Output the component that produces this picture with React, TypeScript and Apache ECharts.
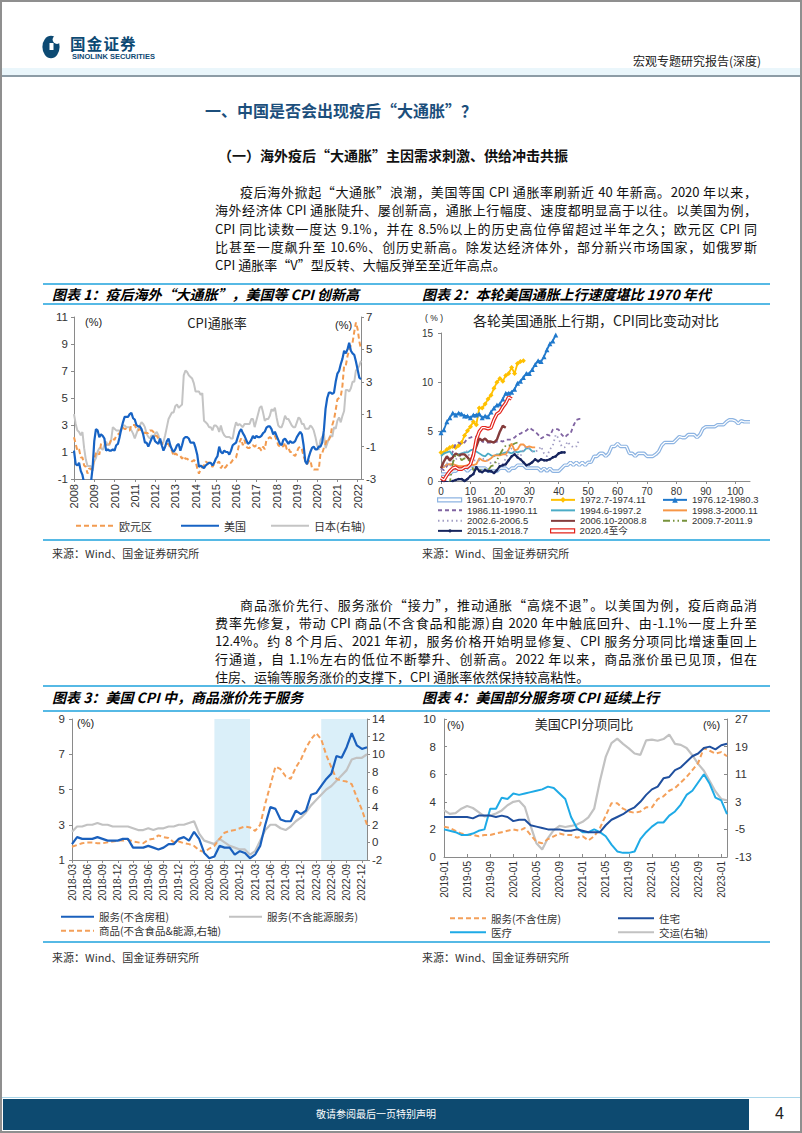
import React, { useEffect, useRef } from "react";
import * as echarts from "echarts";

const SANS = '"Liberation Sans", Arial, "Noto Sans CJK SC", sans-serif';
const CJK = '"Noto Sans CJK SC", "Liberation Sans", sans-serif';

/* ---------------- 图表1：CPI通胀率（月度，自 2008-11） ---------------- */
const c1Start = "2008-11";
const c1Euro = [
  2.1, 1.6,
  1.1, 1.2, 0.6, 0.6, 0.0, -0.1, -0.6, -0.2, -0.3, -0.1, 0.5, 0.9,
  1.0, 0.8, 1.6, 1.6, 1.7, 1.5, 1.7, 1.6, 1.9, 2.0, 1.9, 2.2,
  2.3, 2.4, 2.7, 2.8, 2.7, 2.7, 2.6, 2.6, 3.0, 3.0, 3.0, 2.7,
  2.6, 2.7, 2.6, 2.6, 2.4, 2.4, 2.4, 2.6, 2.6, 2.5, 2.2, 2.2,
  2.0, 1.8, 1.7, 1.2, 1.4, 1.6, 1.6, 1.3, 1.1, 0.7, 0.9, 0.8,
  0.8, 0.7, 0.5, 0.7, 0.5, 0.5, 0.4, 0.4, 0.3, 0.4, 0.3, -0.2,
  -0.6, -0.3, -0.1, 0.0, 0.3, 0.2, 0.2, 0.1, -0.1, 0.1, 0.1, 0.2,
  0.3, -0.2, 0.0, -0.2, -0.1, 0.1, 0.2, 0.2, 0.4, 0.5, 0.6, 1.1,
  1.7, 2.0, 1.5, 1.9, 1.4, 1.3, 1.3, 1.5, 1.5, 1.4, 1.5, 1.3,
  1.3, 1.1, 1.4, 1.2, 1.9, 2.0, 2.1, 2.0, 2.1, 2.2, 1.9, 1.5,
  1.4, 1.5, 1.4, 1.7, 1.2, 1.3, 1.0, 1.0, 0.8, 0.7, 1.0, 1.3,
  1.4, 1.2, 0.7, 0.3, 0.1, 0.3, 0.4, -0.2, -0.3, -0.3, -0.3, -0.3,
  0.9, 0.9, 1.3, 1.6, 2.0, 1.9, 2.2, 3.0, 3.4, 4.1, 4.9, 5.0,
  5.1, 5.9, 7.4, 7.4, 8.1, 8.6, 8.9, 9.1, 9.9, 10.6, 10.1, 9.2,
  8.6,
];
const c1US = [
  1.1, 0.1,
  0.0, 0.2, -0.4, -0.7, -1.3, -1.4, -2.1, -1.5, -1.3, -0.2, 1.8, 2.7,
  2.6, 2.1, 2.3, 2.2, 2.0, 1.1, 1.2, 1.1, 1.1, 1.2, 1.1, 1.5,
  1.6, 2.1, 2.7, 3.2, 3.6, 3.6, 3.6, 3.8, 3.9, 3.5, 3.4, 3.0,
  2.9, 2.9, 2.7, 2.3, 1.7, 1.7, 1.4, 1.7, 2.0, 2.2, 1.8, 1.7,
  1.6, 2.0, 1.5, 1.1, 1.4, 1.8, 2.0, 1.5, 1.2, 1.0, 1.2, 1.5,
  1.6, 1.1, 1.5, 2.0, 2.1, 2.1, 2.0, 1.7, 1.7, 1.7, 1.3, 0.8,
  -0.1, 0.0, -0.1, -0.2, 0.0, 0.1, 0.2, 0.2, 0.0, 0.2, 0.5, 0.7,
  1.4, 1.0, 0.9, 1.1, 1.0, 1.0, 0.8, 1.1, 1.5, 1.6, 1.7, 2.1,
  2.5, 2.7, 2.4, 2.2, 1.9, 1.6, 1.7, 1.9, 2.2, 2.0, 2.2, 2.1,
  2.1, 2.2, 2.4, 2.5, 2.8, 2.9, 2.9, 2.7, 2.3, 2.5, 2.2, 1.9,
  1.6, 1.5, 1.9, 2.0, 1.8, 1.6, 1.8, 1.7, 1.7, 1.8, 2.1, 2.3,
  2.5, 2.3, 1.5, 0.3, 0.1, 0.6, 1.0, 1.3, 1.4, 1.2, 1.2, 1.4,
  1.4, 1.7, 2.6, 4.2, 5.0, 5.4, 5.4, 5.3, 5.4, 6.2, 6.8, 7.0,
  7.5, 7.9, 8.5, 8.3, 8.6, 9.1, 8.5, 8.3, 8.2, 7.7, 7.1, 6.5,
  6.4,
];
const c1Japan = [
  1.0, 0.4,
  0.0, -0.1, -0.3, -0.1, -1.1, -1.8, -2.2, -2.2, -2.2, -2.5, -1.9, -1.7,
  -1.3, -1.1, -1.1, -1.2, -0.9, -0.7, -0.9, -0.9, -0.6, 0.2, 0.1, 0.0,
  0.0, 0.0, 0.0, 0.3, 0.3, 0.2, 0.2, 0.2, 0.0, -0.2, -0.5, -0.2,
  0.1, 0.3, 0.5, 0.4, 0.2, -0.2, -0.4, -0.5, -0.3, -0.4, -0.2, -0.1,
  -0.3, -0.7, -0.9, -0.7, -0.3, 0.2, 0.7, 0.9, 1.1, 1.1, 1.5, 1.6,
  1.4, 1.5, 1.6, 3.4, 3.7, 3.6, 3.4, 3.3, 3.2, 2.9, 2.4, 2.4,
  2.4, 2.2, 2.3, 0.6, 0.5, 0.4, 0.2, 0.2, 0.0, 0.3, 0.3, 0.2,
  -0.1, 0.3, -0.1, -0.3, -0.4, -0.4, -0.4, -0.5, -0.5, 0.1, 0.5, 0.3,
  0.4, 0.3, 0.2, 0.4, 0.4, 0.4, 0.4, 0.7, 0.7, 0.2, 0.6, 1.0,
  1.4, 1.5, 1.1, 0.6, 0.7, 0.7, 0.9, 1.3, 1.2, 1.4, 0.8, 0.3,
  0.2, 0.2, 0.5, 0.9, 0.7, 0.7, 0.5, 0.3, 0.2, 0.2, 0.5, 0.8,
  0.7, 0.4, 0.4, 0.1, 0.1, 0.1, 0.3, 0.2, 0.0, -0.4, -0.9, -1.2,
  -0.6, -0.4, -0.2, -1.1, -0.8, -0.5, -0.3, -0.4, 0.2, 0.1, 0.6, 0.8,
  0.5, 0.9, 1.2, 2.5, 2.5, 2.4, 2.6, 3.0, 3.0, 3.7, 3.8, 4.0,
  4.3,
];

/* ---------------- 图表2：各轮美国通胀上行期 CPI 同比（按月序） ---------------- */
const c2_1961 = [
  0.7, 0.7, 0.7,
  0.7, 1.0, 1.0, 1.3, 1.3, 1.3, 1.0, 1.3, 1.3, 1.3, 1.3, 1.3,
  1.3, 1.0, 1.0, 1.0, 1.0, 1.3, 1.3, 1.3, 1.0, 1.3, 1.3, 1.6,
  1.6, 1.6, 1.3, 1.3, 1.3, 1.3, 1.3, 1.0, 1.3, 1.0, 1.3, 1.0,
  1.0, 1.0, 1.3, 1.6, 1.6, 1.9, 1.6, 1.9, 1.6, 1.9, 1.6, 1.9,
  1.9, 2.5, 2.5, 2.8, 2.8, 2.5, 2.8, 3.5, 3.5, 3.8, 3.5, 3.5,
  3.5, 2.8, 2.8, 2.5, 2.8, 2.8, 2.8, 2.5, 2.5, 2.5, 2.7, 3.0,
  3.6, 3.9, 3.9, 3.9, 3.9, 4.2, 4.5, 4.4, 4.4, 4.7, 4.7, 4.7,
  4.4, 4.7, 5.3, 5.5, 5.5, 5.5, 5.5, 5.7, 5.7, 5.7, 6.0, 6.2,
  6.2, 6.1, 5.8, 6.1, 6.0, 6.0, 6.0,
];
const c2_1972 = [
  2.9, 2.9, 3.2, 3.4, 3.5, 3.4,
  3.6, 3.9, 4.6, 5.1, 5.5, 6.0, 5.7, 7.4, 7.4, 7.8, 8.3, 8.7,
  9.4, 10.0, 10.4, 10.1, 10.7, 10.9, 11.5, 10.9, 11.9, 12.1, 12.2,
];
const c2_1976 = [
  4.9,
  5.2, 6.0, 6.4, 6.9, 6.7, 6.9, 6.8, 6.6, 6.6, 6.4, 6.7, 6.7,
  6.8, 6.4, 6.6, 6.5, 7.0, 7.4, 7.7, 7.8, 8.3, 8.9, 8.9, 9.0,
  9.3, 9.9, 10.1, 10.5, 10.9, 10.9, 11.3, 11.8, 12.2, 12.1, 12.6, 13.3,
  13.9, 14.2, 14.8,
];
const c2_1986 = [
  1.3, 1.1,
  1.5, 2.1, 3.0, 3.8, 3.9, 3.7, 3.9, 4.3, 4.4, 4.5, 4.5, 4.4,
  4.0, 3.9, 3.9, 3.9, 3.9, 4.0, 4.1, 4.0, 4.2, 4.2, 4.2, 4.4,
  4.7, 4.8, 5.0, 5.1, 5.4, 5.2, 5.0, 4.7, 4.3, 4.5, 4.7, 4.6,
  5.2, 5.3, 5.2, 4.7, 4.4, 4.7, 4.8, 5.6, 6.2, 6.3, 6.3,
];
const c2_1994 = [
  2.5, 2.8, 2.9, 3.0, 2.6, 2.7, 2.7,
  2.8, 2.9, 2.9, 3.1, 3.2, 3.0, 2.8, 2.6, 2.5, 2.8, 2.6, 2.5,
  2.7, 2.7, 2.8, 2.9, 2.9, 2.8, 3.0, 2.9, 3.0, 3.0, 3.3, 3.3,
  3.0, 3.0,
];
const c2_1998 = [
  1.4, 1.4, 1.7, 1.7, 1.7, 1.6, 1.5, 1.5, 1.5, 1.6,
  1.7, 1.6, 1.7, 2.3, 2.1, 2.0, 2.1, 2.3, 2.6, 2.6, 2.6, 2.7,
  2.7, 3.2, 3.8, 3.1, 3.2, 3.7, 3.7, 3.4, 3.5, 3.4, 3.4,
];
const c2_2002 = [
  1.1, 1.5, 1.8, 1.5, 2.0, 2.2, 2.4,
  2.6, 3.0, 3.0, 2.2, 2.1, 2.1, 2.1, 2.2, 2.3, 2.0, 1.8, 1.9,
  1.9, 1.7, 1.7, 2.3, 3.1, 3.3, 3.0, 2.7, 2.5, 3.2, 3.5, 3.3,
  3.0, 3.0, 3.1, 3.5, 2.8, 2.5, 3.2, 3.6, 4.7, 4.3, 3.5, 3.4,
  4.0, 3.6, 3.4, 3.5, 4.2,
];
const c2_2006 = [
  1.3, 2.0, 2.5,
  2.1, 2.4, 2.8, 2.6, 2.7, 2.7, 2.4, 2.0, 2.8, 3.5, 4.3, 4.1,
  4.3, 4.0, 4.0, 3.9, 4.2, 5.0, 5.6, 5.4,
];
const c2_2009 = [
  -2.1, -1.5, -1.3, -0.2, 1.8, 2.7,
  2.6, 2.1, 2.3, 2.2, 2.0, 1.1, 1.2, 1.1, 1.1, 1.2, 1.1, 1.5,
  1.6, 2.1, 2.7, 3.2, 3.6, 3.6, 3.6, 3.8, 3.9,
];
const c2_2015 = [
  -0.1, 0.0, -0.1, -0.2, 0.0, 0.1, 0.2, 0.2, 0.0, 0.2, 0.5, 0.7,
  1.4, 1.0, 0.9, 1.1, 1.0, 1.0, 0.8, 1.1, 1.5, 1.6, 1.7, 2.1,
  2.5, 2.7, 2.4, 2.2, 1.9, 1.6, 1.7, 1.9, 2.2, 2.0, 2.2, 2.1,
  2.1, 2.2, 2.4, 2.5, 2.8, 2.9, 2.9,
];
const c2_2020 = [
  0.3, 0.1, 0.6, 1.0, 1.3, 1.4, 1.2, 1.2, 1.4,
  1.4, 1.7, 2.6, 4.2, 5.0, 5.4, 5.4, 5.3, 5.4, 6.2, 6.8, 7.0,
  7.5, 7.9, 8.5, 8.3,
];
const c2Names = [
  "1961.10-1970.7", "1972.7-1974.11", "1976.12-1980.3",
  "1986.11-1990.11", "1994.6-1997.2", "1998.3-2000.11",
  "2002.6-2006.5", "2006.10-2008.8", "2009.7-2011.9",
  "2015.1-2018.7", "2020.4至今",
];
const c2Data = [c2_1961, c2_1972, c2_1976, c2_1986, c2_1994, c2_1998, c2_2002, c2_2006, c2_2009, c2_2015, c2_2020];

/* ---------------- 图表3：美国CPI 商品与服务（自 2018-03） ---------------- */
const c3Start = "2018-03";
const c3ServExRent = [
  1.9, 2.3, 2.2, 2.2, 2.2, 2.3, 2.2, 2.1, 2.1, 2.1,
  2.2, 2.2, 1.7, 1.7, 1.7, 1.8, 1.7, 1.6, 1.7, 1.9,
  1.9, 2.2, 2.3, 2.1, 2.6, 2.2, 1.4, 1.1, 1.2, 1.8,
  1.7, 1.7, 1.3, 1.5, 1.4, 1.1, 1.3, 1.8, 3.0, 4.0,
  3.9, 3.3, 3.2, 3.2, 3.8, 3.6, 3.8, 4.7, 4.8, 5.2,
  5.6, 5.9, 6.9, 6.8, 7.4, 8.2, 7.5, 7.3, 7.4,
];
const c3ServExEnergy = [
  2.6, 2.9, 2.9, 3.0, 3.0, 3.1, 3.0, 3.0, 2.9, 2.9,
  2.9, 2.9, 2.8, 2.7, 2.7, 2.8, 2.7, 2.8, 2.8, 2.9,
  2.9, 3.0, 3.0, 3.1, 3.2, 2.5, 2.1, 2.0, 1.9, 2.2,
  2.0, 1.8, 1.7, 1.6, 1.6, 1.3, 1.5, 2.1, 2.7, 3.0,
  3.0, 2.8, 2.7, 2.9, 3.2, 3.4, 3.7, 4.1, 4.4, 4.7,
  5.0, 5.2, 5.5, 5.8, 6.1, 6.7, 6.8, 6.8, 7.0,
];
const c3CoreGoods = [
  -0.5, -0.3, -0.1, 0.0, 0.0, -0.1, -0.1, 0.0, 0.1, 0.2,
  0.2, 0.3, 0.1, 0.0, -0.1, 0.3, 0.4, 0.8, 0.6, 0.5,
  0.0, 0.1, -0.1, -0.2, -0.4, -0.9, -1.1, -0.7, -0.4, 0.4,
  1.1, 1.3, 1.4, 1.6, 1.8, 1.7, 1.3, 2.0, 4.4, 6.5,
  8.6, 8.3, 7.5, 7.2, 8.5, 9.4, 10.7, 11.7, 12.4, 11.7,
  9.9, 8.5, 7.2, 7.0, 6.9, 6.6, 5.1, 3.7, 2.0,
];
const c3Shade = [["2020-07", "2021-02"], ["2022-04", "2023-01"]];

/* ---------------- 图表4：美国CPI分项同比（自 2019-01） ---------------- */
const c4Start = "2019-01";
const c4ServExHousing = [
  2.2, 2.1, 1.9, 1.7, 1.6, 1.6, 1.5, 1.6, 1.6, 1.7,
  1.8, 1.9, 2.0, 1.9, 2.1, 1.6, 1.1, 1.0, 1.3, 1.5,
  1.7, 1.6, 1.6, 1.4, 1.5, 1.2, 1.5, 2.1, 3.0, 3.9,
  3.9, 3.5, 3.3, 3.2, 3.3, 3.6, 3.6, 4.2, 4.4, 4.8,
  5.0, 5.4, 5.8, 6.3, 6.8, 7.9, 7.7, 7.5, 7.6, 7.3,
];
const c4Housing = [
  2.9, 2.9, 2.9, 2.9, 2.9, 2.8, 3.0, 3.0, 3.0, 2.9,
  3.0, 2.9, 2.6, 2.7, 2.7, 2.3, 2.2, 2.1, 2.0, 2.0,
  2.0, 1.9, 1.9, 2.0, 1.9, 1.8, 1.8, 1.8, 2.3, 2.7,
  2.9, 3.1, 3.4, 3.6, 4.0, 4.5, 4.9, 5.1, 5.7, 5.8,
  6.3, 6.5, 6.9, 7.3, 7.5, 7.9, 8.0, 7.8, 8.1, 8.2,
];
const c4Medical = [
  2.0, 1.9, 1.8, 1.6, 1.6, 1.7, 1.9, 2.0, 3.5, 3.5,
  4.3, 4.2, 4.6, 4.5, 4.6, 4.7, 4.8, 4.9, 5.1, 5.0,
  4.6, 4.2, 2.9, 2.1, 1.8, 1.8, 2.0, 1.8, 1.5, 0.9,
  0.4, 0.3, 0.3, 0.4, 1.3, 1.8, 2.2, 2.5, 2.5, 3.0,
  3.3, 3.8, 4.5, 4.8, 5.4, 6.0, 5.3, 4.3, 4.1, 3.1,
];
const c4Transport = [
  0.6, -0.5, -0.3, 1.0, 1.8, 1.2, 0.0, -1.2, -1.0, -0.4,
  0.5, 2.0, 3.0, 3.3, 1.5, -4.0, -9.0, -10.8, -7.5, -5.2,
  -4.0, -4.3, -4.0, -3.6, -2.8, -1.5, 1.0, 9.0, 16.0, 20.0,
  21.3, 19.8, 18.5, 17.0, 16.6, 20.8, 21.0, 20.7, 21.2, 22.5,
  19.8, 19.5, 18.6, 16.5, 14.0, 12.0, 9.0, 6.0, 3.8, 3.4,
];

/* ---------------- text ---------------- */
const P1 = [
  "疫后海外掀起“大通胀”浪潮，美国等国 CPI 通胀率刷新近 40 年新高。2020 年以来，",
  "海外经济体 CPI 通胀陡升、屡创新高，通胀上行幅度、速度都明显高于以往。以美国为例，",
  "CPI 同比读数一度达 9.1%，并在 8.5%以上的历史高位停留超过半年之久；欧元区 CPI 同",
  "比甚至一度飙升至 10.6%、创历史新高。除发达经济体外，部分新兴市场国家，如俄罗斯",
  "CPI 通胀率“V”型反转、大幅反弹至至近年高点。",
];
const P2 = [
  "商品涨价先行、服务涨价“接力”，推动通胀“高烧不退”。以美国为例，疫后商品消",
  "费率先修复，带动 CPI 商品(不含食品和能源)自 2020 年中触底回升、由-1.1%一度上升至",
  "12.4%。约 8 个月后、2021 年初，服务价格开始明显修复、CPI 服务分项同比增速重回上",
  "行通道，自 1.1%左右的低位不断攀升、创新高。2022 年以来，商品涨价虽已见顶，但在",
  "住房、运输等服务涨价的支撑下，CPI 通胀率依然保持较高粘性。",
];

function months(start: string, n: number): string[] {
  let [y, m] = start.split("-").map(Number);
  const out: string[] = [];
  for (let i = 0; i < n; i++) {
    out.push(`${y}-${String(m).padStart(2, "0")}`);
    m++;
    if (m > 12) { m = 1; y++; }
  }
  return out;
}

function buildOption(): any {
  const c1Cats = months(c1Start, c1US.length);
  const c3Cats = months(c3Start, c3ServExRent.length);
  const c4Cats = months(c4Start, c4Housing.length);
  const AX = "#8a8a8a";
  const axisLine = { show: true, onZero: false, lineStyle: { color: AX, width: 1 } };
  const tick = (inside: boolean, length: number, extra: any = {}) => ({ show: true, inside, length, lineStyle: { color: AX }, ...extra });
  const lbl = (size: number, extra: any = {}) => ({ color: "#333", fontSize: size, fontFamily: SANS, ...extra });
  const noSplit = { show: false };

  const xAxis = [
    { gridIndex: 0, type: "category", data: c1Cats, boundaryGap: false, axisLine, axisTick: tick(false, 3, { interval: 11 }),
      axisLabel: lbl(11, { rotate: 90, interval: 11, margin: 5, formatter: (v: string) => v.slice(0, 4) }), splitLine: noSplit },
    { gridIndex: 1, type: "value", min: 0, max: 105, interval: 10, axisLine, axisTick: tick(false, 3),
      axisLabel: lbl(10, { margin: 5, showMaxLabel: false }), splitLine: noSplit },
    { gridIndex: 2, type: "category", data: c3Cats, boundaryGap: false, axisLine, axisTick: tick(false, 3, { interval: 2 }),
      axisLabel: lbl(10, { rotate: 90, interval: 2, margin: 4 }), splitLine: noSplit },
    { gridIndex: 3, type: "category", data: c4Cats, boundaryGap: false, axisLine, axisTick: tick(true, 3, { interval: 3 }),
      axisLabel: lbl(10, { rotate: 90, interval: 3, margin: 4 }), splitLine: noSplit },
  ];
  const yAxis = [
    { gridIndex: 0, type: "value", position: "left", min: -1, max: 11, interval: 2, axisLine, axisTick: tick(false, 3), axisLabel: lbl(11.5, { margin: 6 }), splitLine: noSplit },
    { gridIndex: 0, type: "value", position: "right", min: -3, max: 7, interval: 2, axisLine, axisTick: tick(false, 3), axisLabel: lbl(11.5, { margin: 5 }), splitLine: noSplit },
    { gridIndex: 1, type: "value", position: "left", min: 0, max: 15, interval: 5, axisLine, axisTick: tick(false, 3), axisLabel: lbl(10, { margin: 8 }), splitLine: noSplit },
    { gridIndex: 2, type: "value", position: "left", min: 1, max: 9, interval: 2, axisLine, axisTick: tick(false, 3), axisLabel: lbl(11.5, { margin: 7 }), splitLine: noSplit },
    { gridIndex: 2, type: "value", position: "right", min: -2, max: 14, interval: 2, axisLine, axisTick: tick(false, 3), axisLabel: lbl(11.5, { margin: 5 }), splitLine: noSplit },
    { gridIndex: 3, type: "value", position: "left", min: 0, max: 10, interval: 2, axisLine, axisTick: tick(true, 3), axisLabel: lbl(11.5, { margin: 8 }), splitLine: noSplit },
    { gridIndex: 3, type: "value", position: "right", min: -13, max: 27, interval: 8, axisLine, axisTick: tick(true, 3), axisLabel: lbl(11.5, { margin: 8 }), splitLine: noSplit },
  ];

  const line = (name: string, xi: number, yi: number, data: any[], color: string, width: number, type: any = "solid", z = 2, extra: any = {}) => ({
    name, type: "line", xAxisIndex: xi, yAxisIndex: yi, data, color, symbol: "none", z,
    lineStyle: { color, width, type }, itemStyle: { color }, emphasis: { disabled: true }, ...extra,
  });

  const series: any[] = [];
  // chart 1
  series.push(line("日本(右轴)", 0, 1, c1Japan, "#c4c4c4", 2, "solid", 2));
  series.push(line("欧元区", 0, 0, c1Euro, "#f29b50", 2, [5, 3], 3));
  series.push(line("美国", 0, 0, c1US, "#1763c4", 2.2, "solid", 4));

  // chart 2
  const c2Style: any[] = [
    { color: "#8db4e2", dbl: true },
    { color: "#ffc000", symbol: "diamond", size: 5, leg: 7 },
    { color: "#2079cc", symbol: "triangle", size: 5, leg: 7 },
    { color: "#8064a2", dash: [4, 3] },
    { color: "#4bacc6" },
    { color: "#f79646" },
    { color: "#a29ec4", dash: [1.5, 3] },
    { color: "#843c3c", width: 2.4 },
    { color: "#77933c", dash: [7, 3, 1.5, 3, 1.5, 3] },
    { color: "#17255e", symbol: "circle", size: 2.5, width: 2.2, leg: 4 },
    { color: "#e3241c", dbl: true },
  ];
  c2Names.forEach((name, k) => {
    const st = c2Style[k];
    const pts = c2Data[k].map((v, i) => [i, v]);
    const z = 2 + k;
    if (st.dbl) {
      series.push(line(name, 1, 2, pts, st.color, 3.6, "solid", z));
      series.push(line(name + " ", 1, 2, pts, "#ffffff", 1.2, "solid", z, { silent: true }));
    } else {
      const extra: any = {};
      if (st.symbol) { extra.symbol = st.symbol; extra.symbolSize = st.size; extra.showSymbol = true; }
      series.push(line(name, 1, 2, pts, st.color, st.width || 1.8, st.dash || "solid", z, extra));
    }
  });

  // chart 3
  series.push({
    name: "__shade", type: "line", xAxisIndex: 2, yAxisIndex: 3, data: [], z: 1, silent: true,
    markArea: { silent: true, itemStyle: { color: "#daeff9" }, data: c3Shade.map(([a, b]) => [{ xAxis: a }, { xAxis: b }]) },
  });
  series.push(line("服务(不含能源服务)", 2, 3, c3ServExEnergy, "#c2c2c2", 2.2, "solid", 2));
  series.push(line("商品(不含食品&能源,右轴)", 2, 4, c3CoreGoods, "#f4a05a", 2, [5, 3], 3));
  series.push(line("服务(不含房租)", 2, 3, c3ServExRent, "#1a60bd", 2.2, "solid", 4));

  // chart 4
  series.push(line("交运(右轴)", 3, 6, c4Transport, "#c2c2c2", 2.2, "solid", 2));
  series.push(line("服务(不含住房)", 3, 5, c4ServExHousing, "#f4a05a", 2, [5, 3], 3));
  series.push(line("医疗", 3, 5, c4Medical, "#1eaae6", 2, "solid", 4));
  series.push(line("住宅", 3, 5, c4Housing, "#1f4f9e", 2, "solid", 5));

  const leg = (name: any, left: number, cy: number, itemWidth: number, fontSize: number, fam: string, marker = false, itemHeight = 8) => ({
    data: [name], left, top: cy - fontSize * 0.62, itemWidth, itemHeight, itemGap: 0, padding: 0, selectedMode: false,
    itemStyle: marker ? {} : { opacity: 0 },
    textStyle: { fontSize, color: "#333", fontFamily: fam },
  });
  const legend: any[] = [
    leg("欧元区", 75, 527, 38, 11, CJK),
    leg("美国", 180, 527, 38, 11, CJK),
    leg("日本(右轴)", 270, 527, 38, 11, CJK),
  ];
  const c2Cols = [437, 550, 662];
  const c2Rows = [501, 511.5, 522, 532];
  c2Names.forEach((name, k) => {
    const st = c2Style[k];
    const col = c2Cols[k % 3];
    const row = c2Rows[Math.floor(k / 3)];
    if (st.dbl) {
      const item = { name, icon: "rect", itemStyle: { color: "#fff", borderColor: st.color, borderWidth: 1.2, opacity: 1 } };
      legend.push(leg(item, col, row, 24, 9.5, SANS, true, 4));
    } else {
      legend.push(leg(name, col, row, 24, 9.5, SANS, !!st.symbol, st.leg || 7));
    }
  });
  legend.push(leg("服务(不含房租)", 60, 918, 33, 10.5, CJK));
  legend.push(leg("服务(不含能源服务)", 228, 918, 33, 10.5, CJK));
  legend.push(leg("商品(不含食品&能源,右轴)", 60, 932, 33, 10.5, CJK));
  legend.push(leg("服务(不含住房)", 449, 919.5, 36, 10.5, CJK));
  legend.push(leg("住宅", 617, 919.5, 36, 10.5, CJK));
  legend.push(leg("医疗", 449, 933.5, 36, 10.5, CJK));
  legend.push(leg("交运(右轴)", 617, 933.5, 36, 10.5, CJK));

  const txt = (text: string, x: number, y: number, font: string, align = "left") => ({
    type: "text", x, y, silent: true,
    style: { text, font, fill: "#222", textAlign: align, align, textVerticalAlign: "middle", verticalAlign: "middle" },
  });
  const graphic = [
    txt("CPI通胀率", 217, 322, `13px ${CJK}`, "center"),
    txt("(%)", 85, 322, `11px ${SANS}`),
    txt("(%)", 335, 325, `11px ${SANS}`),
    txt("各轮美国通胀上行期，CPI同比变动对比", 596, 320, `14px ${CJK}`, "center"),
    txt("( % )", 434, 318, `8.5px ${SANS}`, "center"),
    txt("(%)", 77, 723, `11px ${SANS}`),
    txt("(%)", 345, 723, `11px ${SANS}`),
    txt("美国CPI分项同比", 584, 723, `13px ${CJK}`, "center"),
    txt("(%)", 447, 725, `11px ${SANS}`),
    txt("(%)", 703, 725, `11px ${SANS}`),
  ];

  return {
    animation: false,
    textStyle: { fontFamily: SANS },
    grid: [
      { left: 74, top: 317, width: 287, height: 162 },
      { left: 441, top: 333, width: 309, height: 148 },
      { left: 72, top: 719, width: 295, height: 141 },
      { left: 444, top: 719, width: 283, height: 138 },
    ],
    xAxis, yAxis, legend, graphic, series,
  };
}

const abs = (x: number, y: number, extra: React.CSSProperties = {}): React.CSSProperties => ({ position: "absolute", left: x, top: y, ...extra });

function TextAt(props: { x: number; cy: number; size: number; lh?: number; children: any; style?: React.CSSProperties }) {
  const lh = props.lh ?? Math.round(props.size * 1.4);
  return (
    <div style={abs(props.x, props.cy - lh / 2, { fontSize: props.size, lineHeight: `${lh}px`, height: lh, whiteSpace: "nowrap", fontFamily: CJK, color: "#111", ...props.style })}>
      {props.children}
    </div>
  );
}

function Para({ lines, top, step }: { lines: string[]; top: number; step: number }) {
  return (
    <>
      {lines.map((t, i) => {
        const x = i === 0 ? 240 : 215;
        const last = i === lines.length - 1;
        return (
          <div key={i} style={abs(x, top + i * step - 9, {
            width: 757 - x, height: 18, lineHeight: "18px", fontSize: 13, fontFamily: CJK, color: "#111",
            whiteSpace: "nowrap", textAlign: last ? "left" : "justify", textAlignLast: last ? "left" : "justify",
          } as any)}>{t}</div>
        );
      })}
    </>
  );
}

const BLUE = "#56b9e5";

export default function App() {
  const ref = useRef<HTMLDivElement>(null);
  useEffect(() => {
    const chart = echarts.init(ref.current as HTMLDivElement, null, { renderer: "svg", width: 802, height: 1133 });
    chart.setOption(buildOption());
    return () => chart.dispose();
  }, []);

  const hline = (y: number, h = 2, color = BLUE, x = 43, w = 727) => (
    <div style={abs(x, y - h / 2, { width: w, height: h, background: color })} />
  );
  const chartTitle = (x: number, cy: number, t: string) => (
    <TextAt x={x} cy={cy} size={14} style={{ fontWeight: 700, fontStyle: "italic", color: "#000" }}>{t}</TextAt>
  );
  const source = (x: number, cy: number) => (
    <TextAt x={x} cy={cy} size={11} style={{ color: "#333" }}>来源：Wind、国金证券研究所</TextAt>
  );

  return (
    <div style={{ position: "absolute", left: 0, top: 0, width: 802, height: 1133, background: "#fff", overflow: "hidden" }}>
      <div ref={ref} style={{ position: "absolute", left: 0, top: 0, width: 802, height: 1133 }} />

      {/* header */}
      <div style={abs(2, 68, { width: 798, height: 7, background: "#eaf6fb" })} />
      {hline(76, 2, "#8d9ca6", 2, 798)}
      <svg width="20" height="26" style={abs(41, 34)}>
        <ellipse cx="10" cy="13" rx="8.6" ry="11.2" fill="#0d4a73" />
        <circle cx="16" cy="5.5" r="4.4" fill="#fff" />
        <rect x="8.5" y="9" width="4" height="7" fill="#fff" />
      </svg>
      <TextAt x={70} cy={43} size={15.5} lh={17} style={{ fontWeight: 700, color: "#0d4a73", letterSpacing: 1.2 }}>国金证券</TextAt>
      <TextAt x={72} cy={56.5} size={7.5} lh={8} style={{ fontWeight: 700, color: "#0d4a73", fontFamily: '"Liberation Sans Narrow", "Liberation Sans", sans-serif' }}>SINOLINK SECURITIES</TextAt>
      <TextAt x={633} cy={61} size={12} lh={14} style={{ color: "#222" }}>宏观专题研究报告(深度)</TextAt>

      {/* section title */}
      <TextAt x={205} cy={110} size={16} style={{ fontWeight: 700, color: "#1c4f7c" }}>一、中国是否会出现疫后“大通胀”？</TextAt>
      <TextAt x={218} cy={155} size={14} style={{ fontWeight: 700, color: "#111" }}>（一）海外疫后“大通胀”主因需求刺激、供给冲击共振</TextAt>
      <Para lines={P1} top={192} step={18.3} />

      {/* charts row 1 */}
      {hline(284)}
      {hline(304)}
      {chartTitle(52, 294, "图表 1：疫后海外“大通胀”，美国等 CPI 创新高")}
      {chartTitle(422, 294, "图表 2：本轮美国通胀上行速度堪比 1970 年代")}
      {hline(540)}
      {source(52, 553)}
      {source(422, 553)}

      <Para lines={P2} top={605} step={18} />

      {/* charts row 2 */}
      {hline(686)}
      {hline(711)}
      {chartTitle(52, 697, "图表 3：美国 CPI 中，商品涨价先于服务")}
      {chartTitle(422, 697, "图表 4：美国部分服务项 CPI 延续上行")}
      {hline(942)}
      {source(52, 957)}
      {source(422, 957)}

      {/* footer */}
      {hline(1097, 1, "#a9d6ea", 2, 798)}
      <div style={abs(3, 1099, { width: 746, height: 31, background: "#0d4a70" })} />
      <TextAt x={0} cy={1114} size={10} style={{ width: 752, textAlign: "center", color: "#fff" }}>敬请参阅最后一页特别声明</TextAt>
      <TextAt x={775} cy={1114} size={16} style={{ color: "#222", fontFamily: SANS }}>4</TextAt>

      {/* page frame */}
      <div style={abs(0, 0, { width: 802, height: 1133, boxSizing: "border-box", border: "2px solid #8f8f8f", pointerEvents: "none" })} />
    </div>
  );
}
